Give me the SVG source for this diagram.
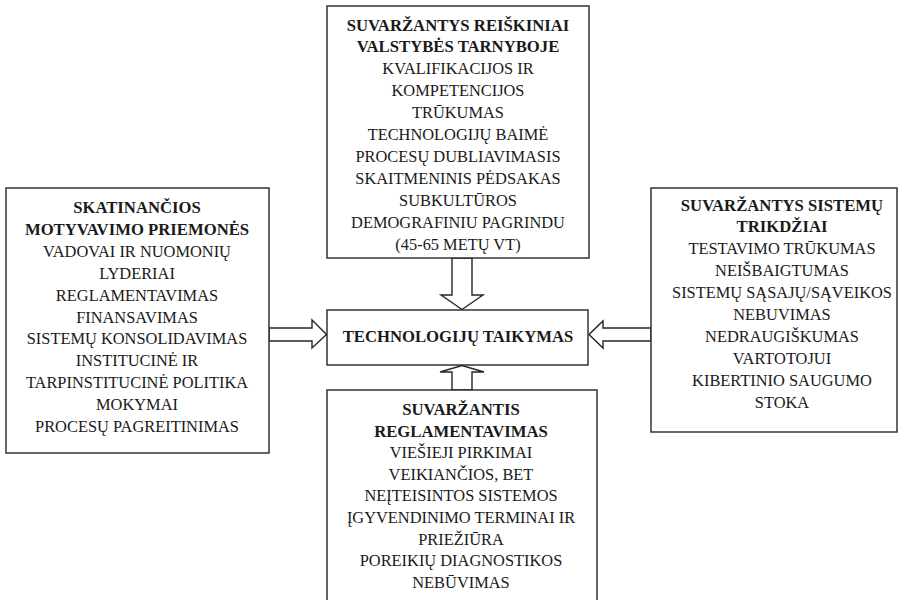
<svg xmlns="http://www.w3.org/2000/svg" width="916" height="600" viewBox="0 0 916 600">
  <style>
    .box { fill: #ffffff; stroke: #262626; stroke-width: 1.4; }
    .arrow { fill: #ffffff; stroke: #262626; stroke-width: 1.4; stroke-linejoin: miter; }
    text { font-family: "Liberation Serif", "Times New Roman", serif; font-size: 16.4px; fill: #1a1a1a; text-anchor: middle; }
    .b { font-weight: bold; font-size: 16.7px; }
  </style>
  <rect width="916" height="600" fill="#ffffff"/>

  <!-- block arrows pointing into the central box -->
  <g id="connectors">
    <polygon class="arrow" points="452,258 452,295 441,295 462,309.5 483,295 472,295 472,258"/>
    <polygon class="arrow" points="269,328 312,328 312,320 326.5,334.5 312,348 312,341 269,341"/>
    <polygon class="arrow" points="651,328 603,328 603,321 589,334.5 603,348 603,341 651,341"/>
    <polygon class="arrow" points="452,390 452,372 440,372 462,365.5 484,372 472,372 472,390"/>
  </g>

  <g id="node-top">
    <rect class="box" x="327" y="6" width="262" height="252"/>
    <text class="b" x="458" y="30.5">SUVARŽANTYS REIŠKINIAI</text>
    <text class="b" x="458" y="52.4">VALSTYBĖS TARNYBOJE</text>
    <text x="458" y="74.3">KVALIFIKACIJOS IR</text>
    <text x="458" y="96.2">KOMPETENCIJOS</text>
    <text x="458" y="118.1">TRŪKUMAS</text>
    <text x="458" y="140">TECHNOLOGIJŲ BAIMĖ</text>
    <text x="458" y="161.9">PROCESŲ DUBLIAVIMASIS</text>
    <text x="458" y="183.8">SKAITMENINIS PĖDSAKAS</text>
    <text x="458" y="205.7">SUBKULTŪROS</text>
    <text x="458" y="227.6">DEMOGRAFINIU PAGRINDU</text>
    <text x="458" y="249.5">(45-65 METŲ VT)</text>
  </g>

  <g id="node-left">
    <rect class="box" x="6" y="188" width="263" height="265"/>
    <text class="b" x="137" y="213">SKATINANČIOS</text>
    <text class="b" x="137" y="234.9">MOTYVAVIMO PRIEMONĖS</text>
    <text x="137" y="256.8">VADOVAI IR NUOMONIŲ</text>
    <text x="137" y="278.7">LYDERIAI</text>
    <text x="137" y="300.6">REGLAMENTAVIMAS</text>
    <text x="137" y="322.5">FINANSAVIMAS</text>
    <text x="137" y="344.4">SISTEMŲ KONSOLIDAVIMAS</text>
    <text x="137" y="366.3">INSTITUCINĖ IR</text>
    <text x="137" y="388.2">TARPINSTITUCINĖ POLITIKA</text>
    <text x="137" y="410.1">MOKYMAI</text>
    <text x="137" y="432">PROCESŲ PAGREITINIMAS</text>
  </g>

  <g id="node-center">
    <rect class="box" x="327" y="310" width="261" height="55"/>
    <text class="b" x="458" y="341.5">TECHNOLOGIJŲ TAIKYMAS</text>
  </g>

  <g id="node-right">
    <rect class="box" x="651" y="188" width="246" height="244"/>
    <text class="b" x="782" y="210.5">SUVARŽANTYS SISTEMŲ</text>
    <text class="b" x="782" y="232.4">TRIKDŽIAI</text>
    <text x="782" y="254.3">TESTAVIMO TRŪKUMAS</text>
    <text x="782" y="276.2">NEIŠBAIGTUMAS</text>
    <text x="782" y="298.1">SISTEMŲ SĄSAJŲ/SĄVEIKOS</text>
    <text x="782" y="320">NEBUVIMAS</text>
    <text x="782" y="341.9">NEDRAUGIŠKUMAS</text>
    <text x="782" y="363.8">VARTOTOJUI</text>
    <text x="782" y="385.7">KIBERTINIO SAUGUMO</text>
    <text x="782" y="407.6">STOKA</text>
  </g>

  <g id="node-bottom">
    <rect class="box" x="327" y="390" width="270" height="212"/>
    <text class="b" x="461" y="415">SUVARŽANTIS</text>
    <text class="b" x="461" y="436.6">REGLAMENTAVIMAS</text>
    <text x="461" y="458.2">VIEŠIEJI PIRKIMAI</text>
    <text x="461" y="479.8">VEIKIANČIOS, BET</text>
    <text x="461" y="501.4">NEĮTEISINTOS SISTEMOS</text>
    <text x="461" y="523">ĮGYVENDINIMO TERMINAI IR</text>
    <text x="461" y="544.6">PRIEŽIŪRA</text>
    <text x="461" y="566.2">POREIKIŲ DIAGNOSTIKOS</text>
    <text x="461" y="587.8">NEBŪVIMAS</text>
  </g>
</svg>
